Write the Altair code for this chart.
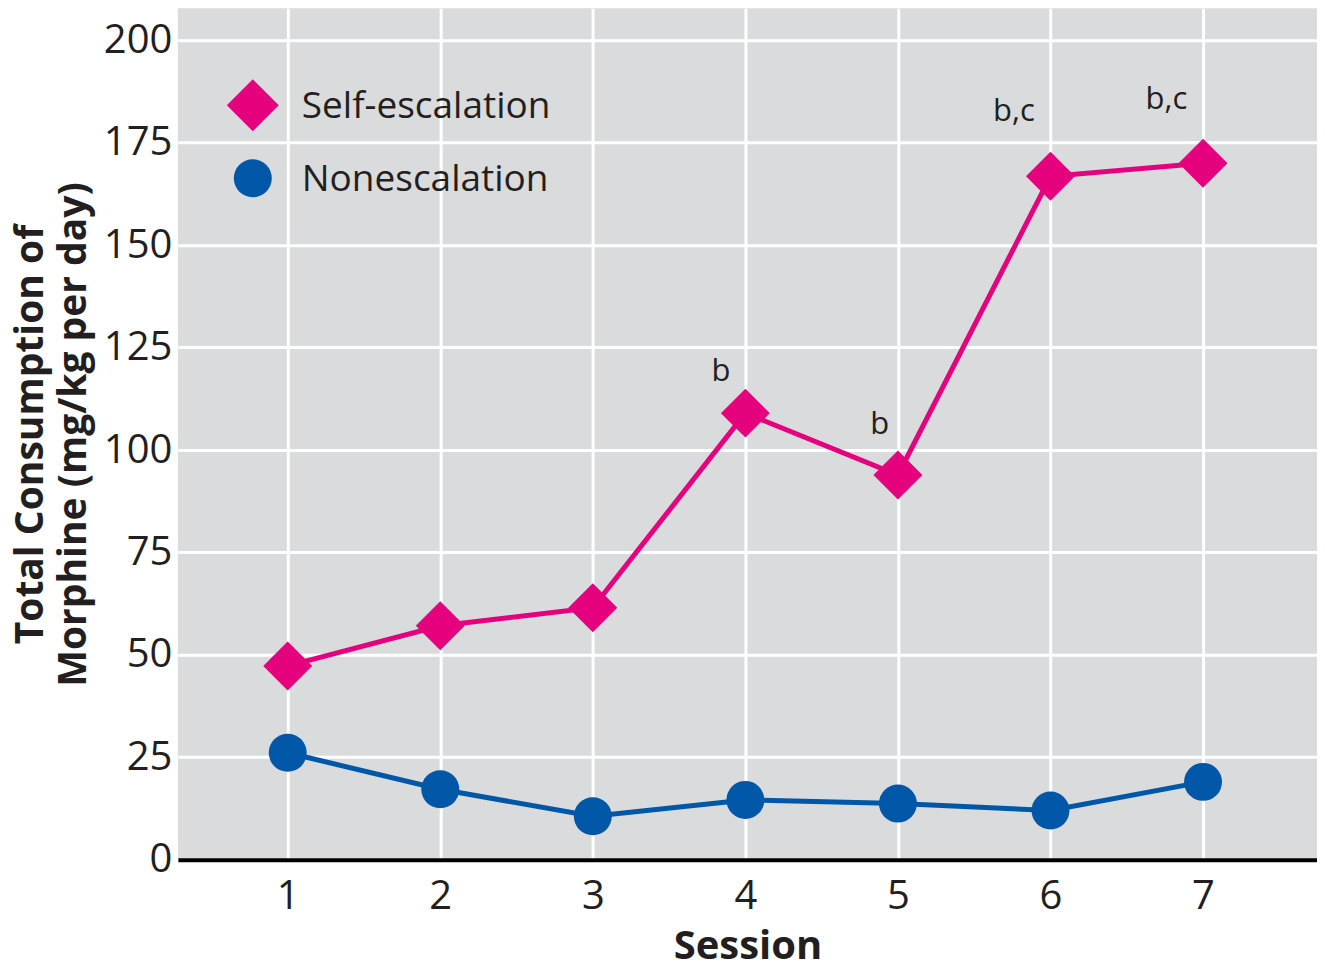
import altair as alt
import pandas as pd

sessions = [1, 2, 3, 4, 5, 6, 7]
self_escalation = [47.3, 57.1, 61.5, 109, 93.9, 166.8, 170]
nonescalation = [26.1, 17.2, 10.6, 14.6, 13.7, 12, 19]
series_names = ["Self-escalation", "Nonescalation"]
series_colors = ["#E5007E", "#0057A8"]
series_shapes = ["diamond", "circle"]

annot_labels = ["b", "b", "b,c", "b,c"]
annot_sessions = [3.84, 4.88, 5.76, 6.76]
annot_values = [119, 106, 182.5, 185.5]

y_ticks = [0, 25, 50, 75, 100, 125, 150, 175, 200]
x_ticks = sessions

FONT = "Open Sans"
TXT = "#231f20"

df = pd.DataFrame({
    "session": sessions * 2,
    "value": self_escalation + nonescalation,
    "series": [series_names[0]] * len(sessions) + [series_names[1]] * len(sessions),
})
self_df = df[df.series == series_names[0]]
non_df = df[df.series == series_names[1]]

ann_df = pd.DataFrame({"session": annot_sessions, "value": annot_values, "label": annot_labels})

xscale = alt.Scale(domain=[0.28, 7.747], nice=False, zero=False)
yscale = alt.Scale(domain=[0, 207.8], nice=False)

xaxis = alt.Axis(values=x_ticks, format="d", title="Session", grid=True, gridColor="white",
                 gridWidth=3, ticks=False, domainColor="black", domainWidth=4,
                 labelFontSize=40, labelFont=FONT, labelColor=TXT, labelPadding=17,
                 titleFontSize=40, titleFont=FONT, titleFontWeight="bold", titleColor=TXT,
                 titlePadding=10)
yaxis = alt.Axis(values=y_ticks, title=["Total Consumption of", "Morphine (mg/kg per day)"],
                 grid=True, gridColor="white", gridWidth=3, ticks=False, domain=False,
                 labelFontSize=40, labelFont=FONT, labelColor=TXT, labelPadding=6,
                 titleFontSize=39, titleFont=FONT, titleFontWeight="bold", titleColor=TXT,
                 titlePadding=10, titleLineHeight=43)

base_x = alt.X("session:Q", scale=xscale, axis=xaxis)
base_y = alt.Y("value:Q", scale=yscale, axis=yaxis)

self_line = alt.Chart(self_df).mark_line(color=series_colors[0], strokeWidth=5).encode(x=base_x, y=base_y)
self_pts = alt.Chart(self_df).mark_point(shape="diamond", filled=True, opacity=1,
                                         color=series_colors[0], size=2400).encode(
    x=alt.X("session:Q", scale=xscale), y=alt.Y("value:Q", scale=yscale))
non_line = alt.Chart(non_df).mark_line(color=series_colors[1], strokeWidth=5).encode(
    x=alt.X("session:Q", scale=xscale), y=alt.Y("value:Q", scale=yscale))
non_pts = alt.Chart(non_df).mark_point(shape="circle", filled=True, opacity=1,
                                       color=series_colors[1], size=1444).encode(
    x=alt.X("session:Q", scale=xscale), y=alt.Y("value:Q", scale=yscale))

ann = alt.Chart(ann_df).mark_text(fontSize=31, font=FONT, color=TXT).encode(
    x=alt.X("session:Q", scale=xscale), y=alt.Y("value:Q", scale=yscale), text="label:N")

leg_df = pd.DataFrame({"series": series_names, "shape": series_shapes, "color": series_colors,
                       "row": [0, 1]})
leg_sym1 = alt.Chart(leg_df[leg_df.row == 0]).mark_point(shape="diamond", filled=True, opacity=1,
                                                         color=series_colors[0], size=2700).encode(
    x=alt.value(75), y=alt.value(97))
leg_sym2 = alt.Chart(leg_df[leg_df.row == 1]).mark_point(shape="circle", filled=True, opacity=1,
                                                         color=series_colors[1], size=1444).encode(
    x=alt.value(75), y=alt.value(170))
leg_txt1 = alt.Chart(leg_df[leg_df.row == 0]).mark_text(fontSize=37, font=FONT, color=TXT,
                                                        align="left", baseline="middle").encode(
    x=alt.value(124), y=alt.value(99), text="series:N")
leg_txt2 = alt.Chart(leg_df[leg_df.row == 1]).mark_text(fontSize=37, font=FONT, color=TXT,
                                                        align="left", baseline="middle").encode(
    x=alt.value(124), y=alt.value(172), text="series:N")

chart = alt.layer(self_line, non_line, self_pts, non_pts, ann,
                  leg_sym1, leg_sym2, leg_txt1, leg_txt2).properties(
    width=1140, height=852,
    autosize=alt.AutoSizeParams(type="none"),
    padding={"left": 170, "top": 0, "right": 0, "bottom": 106},
    background="white",
).configure_view(fill="#d9dbdd", stroke=None)

chart.save("out.html", embed_options={"renderer": "svg", "actions": False})
